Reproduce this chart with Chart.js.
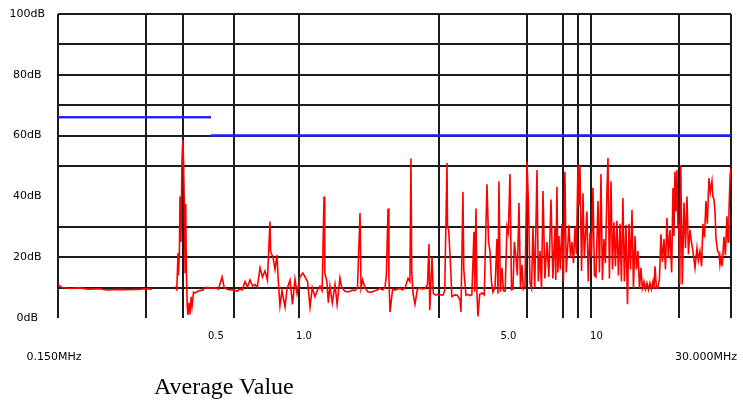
<!DOCTYPE html>
<html>
<head>
<meta charset="utf-8">
<title>Average Value</title>
<script src="https://cdn.jsdelivr.net/npm/chart.js@4.4.1/dist/chart.umd.min.js"></script>
<style>
  html, body { margin: 0; padding: 0; background: #fff; }
  #wrap { position: relative; width: 743px; height: 401px; }
  #caption {
    position: absolute; left: 154px; top: 374px;
    font: 24px/24px "Liberation Serif", "Times New Roman", serif; color: #000;
  }
</style>
</head>
<body>
<div id="wrap">
  <canvas id="emiChart"></canvas>
  <div id="caption">Average Value</div>
</div>
<script>
// scan result, MHz / dBuV (null = no reading)
const scanFreq = [
  0.150, 0.155, 0.165, 0.178, 0.190, 0.209, 0.220, 0.244, 0.260, 0.280, 0.300, 0.314, 0.340,
  0.380, 0.382, 0.386, 0.387, 0.390, 0.392, 0.395, 0.398, 0.401, 0.403, 0.405, 0.408, 0.410,
  0.412, 0.415, 0.417, 0.420, 0.424, 0.428, 0.431, 0.436, 0.441, 0.450, 0.459, 0.470, 0.477,
  0.490, 0.500, 0.516, 0.530, 0.546, 0.555, 0.565, 0.581, 0.600, 0.614, 0.628, 0.640, 0.654,
  0.667, 0.680, 0.694, 0.707, 0.720, 0.736, 0.750, 0.765, 0.780, 0.796, 0.800, 0.815, 0.828,
  0.841, 0.850, 0.861, 0.875, 0.896, 0.910, 0.932, 0.950, 0.969, 0.985, 1.008, 1.030, 1.049,
  1.070, 1.091, 1.110, 1.134, 1.160, 1.180, 1.200, 1.218, 1.225, 1.246, 1.260, 1.276, 1.300,
  1.328, 1.350, 1.381, 1.400, 1.437, 1.470, 1.494, 1.520, 1.554, 1.585, 1.617, 1.630, 1.650,
  1.682, 1.720, 1.749, 1.780, 1.819, 1.850, 1.893, 1.930, 1.968, 1.990, 2.016, 2.030, 2.048,
  2.090, 2.130, 2.170, 2.215, 2.260, 2.304, 2.360, 2.395, 2.415, 2.430, 2.455, 2.492, 2.540,
  2.592, 2.640, 2.696, 2.750, 2.783, 2.800, 2.850, 2.880, 2.930, 2.980, 3.050, 3.108, 3.150,
  3.207, 3.220, 3.250, 3.309, 3.330, 3.415, 3.480, 3.552, 3.580, 3.636, 3.660, 3.724, 3.780,
  3.843, 3.900, 3.966, 3.990, 4.029, 4.060, 4.093, 4.150, 4.224, 4.300, 4.393, 4.450, 4.498,
  4.550, 4.606, 4.680, 4.753, 4.790, 4.828, 4.880, 4.944, 5.000, 5.070, 5.142, 5.200, 5.265,
  5.330, 5.391, 5.450, 5.520, 5.580, 5.652, 5.720, 5.787, 5.850, 5.926, 6.020, 6.090, 6.165,
  6.240, 6.310, 6.400, 6.513, 6.580, 6.669, 6.750, 6.828, 6.930, 7.047, 7.150, 7.272, 7.380,
  7.504, 7.550, 7.620, 7.680, 7.741, 7.830, 7.927, 8.020, 8.115, 8.200, 8.377, 8.480, 8.578,
  8.680, 8.782, 8.880, 8.993, 9.060, 9.135, 9.250, 9.354, 9.450, 9.652, 9.750, 9.885, 10.00,
  10.12, 10.24, 10.36, 10.53, 10.65, 10.78, 10.90, 11.03, 11.16, 11.30, 11.39, 11.52, 11.66,
  11.80, 11.94, 12.08, 12.22, 12.37, 12.52, 12.66, 12.81, 12.96, 13.12, 13.28, 13.44, 13.60,
  13.76, 13.92, 14.09, 14.25, 14.42, 14.60, 14.76, 14.93, 15.12, 15.30, 15.48, 15.66, 15.85,
  16.04, 16.23, 16.36, 16.49, 16.68, 16.88, 17.08, 17.28, 17.49, 17.70, 17.91, 18.12, 18.33,
  18.55, 18.80, 19.00, 19.15, 19.29, 19.45, 19.60, 19.76, 19.92, 20.05, 20.20, 20.45, 20.72,
  20.97, 21.21, 21.46, 21.72, 21.97, 22.23, 22.60, 22.95, 23.20, 23.49, 23.80, 24.06, 24.35,
  24.63, 24.90, 25.22, 25.50, 25.82, 26.00, 26.24, 26.45, 26.66, 27.00, 27.29, 27.50, 27.72,
  28.00, 28.38, 28.70, 29.06, 29.30, 29.52, 29.80, 30.00
];
const scanLevel = [
  11, 10, 9.7, 9.9, 9.5, 9.6, 9.2, 9.4, 9.3, 9.4, 9.6, 9.5, null,
  10.5, 9, 21.4, 14, 21, 40, 25, 52, 58.5, 51.5, 40, 15, 37.5,
  15.5, 4, 1, 5, 1.2, 7, 4, 8.5, 8.2, 8.8, 9, 9.2, 10,
  10, 9.7, 10, 9.5, 13.5, 10, 9.5, 9.2, 9.3, 8.8, 9.5, 9.2, 12,
  10.2, 12.5, 10.5, 11, 10, 16.5, 13.5, 15.5, 12.5, 31.7, 21.8, 20, 16,
  20.7, 12, 4, 9, 3.6, 9.5, 12.5, 4.5, 12.8, 8, 13.5, 14.8, 13.5,
  12, 3.6, 10, 7, 9.5, 10.5, 9, 40, 15, 12, 5, 10.5, 5,
  11, 4.5, 13.2, 10, 8.8, 8.6, 8.8, 9.2, 9, 10, 34.5, 10, 12.5,
  10, 8.6, 8.5, 8.6, 9, 9.2, 9.8, 9.2, 10, 14, 36, 13, 2,
  9.5, 9.2, 9.5, 9.7, 9.3, 9.9, 13, 12, 52.5, 15, 8, 4.5, 9.5,
  9.8, 9.6, 9.7, 11, 24.3, 2.6, 20, 8, 7.5, 7.8, 7.6, 7.5, 9,
  51, 30, 29, 14.5, 7, 7.6, 7.5, 6, 2, 41.5, 16, 7.5, 7.8,
  7.4, 7.6, 28.4, 8.6, 36, 8, 0.5, 7.8, 8.2, 7.6, 44, 25, 22,
  12, 8.5, 10, 26, 8, 45, 8.6, 16.5, 9, 8.8, 30, 28, 47.4,
  9.3, 9.5, 25, 20, 14, 37.8, 9.8, 17.5, 9.5, 10.5, 51.4, 38, 11.5,
  9.8, 30, 10, 48.7, 12, 22, 9.5, 41.8, 13, 25, 13.5, 39, 13,
  30, 12.5, 43.2, 15, 27, 16, 31, 12, 48.1, 15, 30.5, 20, 25,
  18, 30, 21, 50.3, 37, 50, 15.5, 41, 20, 35, 12, 28, 20,
  42.8, 14, 13.5, 38.5, 15, 47.4, 12.5, 26, 18, 42, 52.6, 13, 45,
  16, 31.5, 17, 32, 14, 31, 12, 39.5, 12, 30.6, 4.5, 31, 16,
  35.5, 9.8, 27, 16, 22, 9.8, 16.5, 9.8, 12, 9.5, 11.5, 9.3, 11.5,
  9.5, 12, 9.6, 17, 9.8, 10, 13, 27.5, 18.5, 26, 16, 33, 20,
  29, 15, 42.8, 27, 48.1, 35, 48.7, 30, 30.5, 11, 50.3, 11, 38,
  23, 40, 21, 29, 25, 22, 16.5, 23, 19, 22, 17, 31, 26.5,
  38.5, 31, 46, 41.5, 45, 40, 39, 35, 26, 22, 21.5, 17.5, 20,
  17, 26.7, 20.7, 33.5, 25, 35, 47, 49.3
];

// limit line: 66 dBuV below 0.5 MHz, 60 dBuV above (null splits the step)
const limitFreq = [0.15, 0.5, 0.5, 0.5, 30];
const limitLevel = [66, 66, null, 60, 60];

// grid and labels
const gridFreqs = [0.15, 0.3, 0.4, 0.6, 1, 3, 6, 8, 9, 10, 20, 30];
const gridLevels = [10, 20, 30, 50, 60, 70, 80, 90, 100];
const freqTicks = [0.5, 1, 5, 10];
const freqLabels = ['0.5', '1.0', '5.0', '10'];
const levelTicks = [0, 20, 40, 60, 80, 100];
const levelLabels = ['0dB', '20dB', '40dB', '60dB', '80dB', '100dB'];
const spanFreqs = [0.15, 30];
const spanLabels = ['0.150MHz', '30.000MHz'];

const gridColor = '#1c1c1c';
const tickFont = { family: '"DejaVu Sans", sans-serif', size: 10 };
const levelFont = { family: '"DejaVu Sans", sans-serif', size: 11 };

const pts = (xs, ys) => xs.map((x, i) => ({ x: x, y: ys[i] }));
const setTicks = vals => scale => { scale.ticks = vals.map(v => ({ value: v })); };
// axis boxes get a fixed size and no extra label padding
const fixBox = (w, h) => s => {
  if (w !== null) s.width = w;
  if (h !== null) s.height = h;
  s.paddingTop = s.paddingBottom = s.paddingLeft = s.paddingRight = 0;
};

// keep the limit above the grid, and put the span labels under the axis
const overlay = {
  id: 'overlay',
  afterDraw(chart) {
    const ctx = chart.ctx;
    ctx.save();
    chart.getDatasetMeta(1).controller.draw();
    ctx.restore();

    const xs = chart.scales.x;
    const yTxt = chart.chartArea.bottom + 39;
    ctx.save();
    ctx.font = '11px "DejaVu Sans", sans-serif';
    ctx.fillStyle = '#000';
    ctx.textBaseline = 'middle';
    ctx.textAlign = 'center';
    ctx.fillText(spanLabels[0], xs.getPixelForValue(spanFreqs[0]) - 4, yTxt);
    ctx.textAlign = 'left';
    ctx.fillText(spanLabels[1], xs.getPixelForValue(spanFreqs[1]) - 56, yTxt);
    ctx.restore();
  }
};

new Chart(document.getElementById('emiChart'), {
  type: 'scatter',
  data: {
    datasets: [
      {
        label: 'Average',
        data: pts(scanFreq, scanLevel),
        showLine: true,
        borderColor: '#ff0000',
        borderWidth: 1.6,
        pointRadius: 0,
        spanGaps: false,
        xAxisID: 'x',
        yAxisID: 'y'
      },
      {
        label: 'Limit',
        data: pts(limitFreq, limitLevel),
        showLine: true,
        borderColor: '#2020ff',
        borderWidth: 2,
        pointRadius: 0,
        spanGaps: false,
        xAxisID: 'x',
        yAxisID: 'y'
      }
    ]
  },
  options: {
    responsive: true,
    maintainAspectRatio: false,
    animation: false,
    devicePixelRatio: 1,
    layout: { padding: { left: 0, right: 12, top: 14, bottom: 53 } },
    plugins: {
      legend: { display: false },
      tooltip: { enabled: false }
    },
    scales: {
      x: {
        type: 'logarithmic', min: 0.15, max: 30, position: 'bottom', z: 1,
        afterBuildTicks: setTicks(gridFreqs),
        afterFit: fixBox(null, 0),
        ticks: { display: false },
        grid: { color: gridColor, lineWidth: 2, drawTicks: false },
        border: { display: false }
      },
      xLab: {
        type: 'logarithmic', min: 0.15, max: 30, position: 'bottom',
        afterBuildTicks: setTicks(freqTicks),
        afterFit: fixBox(null, 30),
        ticks: {
          callback: (v, i) => freqLabels[i],
          autoSkip: false, maxRotation: 0, padding: 12, labelOffset: 5,
          color: '#000', font: tickFont
        },
        grid: { display: false, drawTicks: false },
        border: { display: false }
      },
      y: {
        min: 0, max: 100, position: 'left', z: 1,
        afterBuildTicks: setTicks(gridLevels),
        afterFit: fixBox(0, null),
        ticks: { display: false },
        grid: { color: gridColor, lineWidth: 2, drawTicks: false },
        border: { display: false }
      },
      yLab: {
        min: 0, max: 100, position: 'left',
        afterBuildTicks: setTicks(levelTicks),
        afterFit: fixBox(58, null),
        ticks: {
          callback: (v, i) => levelLabels[i],
          crossAlign: 'center', padding: 13,
          color: '#000', font: levelFont
        },
        grid: { display: false, drawTicks: false },
        border: { display: false }
      }
    }
  },
  plugins: [overlay]
});
</script>
</body>
</html>
